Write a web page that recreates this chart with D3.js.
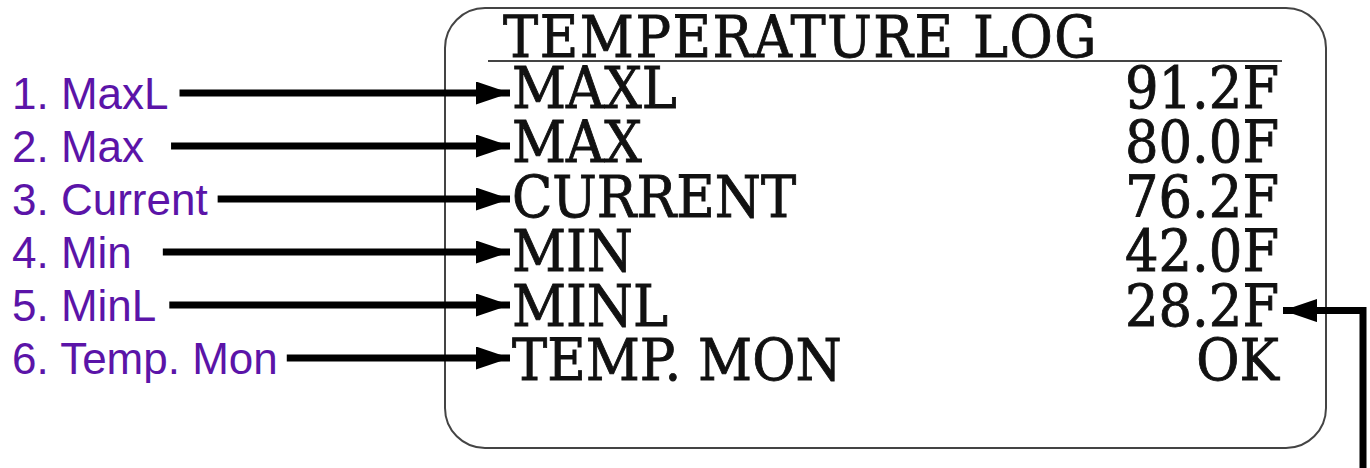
<!DOCTYPE html>
<html>
<head>
<meta charset="utf-8">
<script src="https://cdn.jsdelivr.net/npm/d3@7"></script>
<style>
	body { margin: 0; background: #ffffff; }
	.lcd { font-family: "DejaVu Serif", "Liberation Serif", serif; font-size: 58px; fill: #111111; stroke: #111111; stroke-width: 0.9px; }
	.title { letter-spacing: 1.7px; }
	.callout { font-family: "Liberation Sans", Arial, sans-serif; font-size: 44px; fill: #5b14a8; }
</style>
</head>
<body>
<script>
	//chart data
	var titleText = "TEMPERATURE LOG";
	var rowNames = ["MAXL", "MAX", "CURRENT", "MIN", "MINL", "TEMP. MON"];
	var rowValues = ["91.2F", "80.0F", "76.2F", "42.0F", "28.2F", "OK"];
	var calloutLabels = ["1. MaxL", "2. Max", "3. Current", "4. Min", "5. MinL", "6. Temp. Mon"];
	var pointedValue = "28.2F"; //value that gets the extra arrow from the right

	window.onload = function(){
		var w = 1370, h = 468;

		//gap between callout text and arrow tail, per row (layout only)
		var tailGap = [11, 27, 10, 31, 13, 9];
		var squeeze = 0.91; //horizontal squeeze of the lcd font

		var svg = d3.select("body")
			.append("svg")
			.attr("width", w)
			.attr("height", h)
			.attr("class", "container");

		var defs = svg.append("defs");
		defs.append("marker")
			.attr("id", "head")
			.attr("viewBox", "0 0 10 10")
			.attr("refX", 10)
			.attr("refY", 5)
			.attr("markerUnits", "userSpaceOnUse")
			.attr("markerWidth", 34)
			.attr("markerHeight", 23)
			.attr("orient", "auto")
			.attr("preserveAspectRatio", "none")
			.append("path")
			.attr("d", "M0,0L10,5L0,10Z")
			.style("fill", "#000");

		//display rows (baselines)
		var rowY = d3.scalePoint()
			.domain(rowNames)
			.range([108, 380]);

		//arrow rows
		var arrowY = d3.scalePoint()
			.domain(rowNames)
			.range([93, 358]);

		function place(x, y){
			return "translate(" + x + "," + y + ") scale(" + squeeze + ",1)";
		}

		//screen frame
		svg.append("rect")
			.attr("class", "frame")
			.attr("x", 445)
			.attr("y", 8)
			.attr("width", 881)
			.attr("height", 440)
			.attr("rx", 40)
			.attr("ry", 40)
			.style("fill", "#fff")
			.style("stroke", "#444")
			.style("stroke-width", 2);

		svg.append("text")
			.attr("class", "lcd title")
			.attr("transform", place(503, 57))
			.text(titleText);

		svg.append("line")
			.attr("class", "underline")
			.attr("x1", 488)
			.attr("x2", 1282)
			.attr("y1", 61)
			.attr("y2", 61)
			.style("stroke", "#444")
			.style("stroke-width", 2);

		svg.selectAll(".rowName")
			.data(rowNames)
			.enter()
			.append("text")
			.attr("class", "lcd rowName")
			.attr("transform", function(d){ return place(512, rowY(d)); })
			.text(function(d){ return d; });

		svg.selectAll(".rowValue")
			.data(rowValues)
			.enter()
			.append("text")
			.attr("class", "lcd rowValue")
			.attr("text-anchor", "end")
			.attr("transform", function(d, i){ return place(1279, rowY(rowNames[i])); })
			.text(function(d){ return d; });

		//purple callouts on the left
		var callouts = svg.selectAll(".callout")
			.data(calloutLabels)
			.enter()
			.append("text")
			.attr("class", "callout")
			.attr("x", 12)
			.attr("y", function(d, i){ return arrowY(rowNames[i]) + 16; })
			.text(function(d){ return d; });

		svg.selectAll(".arrow")
			.data(calloutLabels)
			.enter()
			.append("line")
			.attr("class", "arrow")
			.attr("x1", function(d, i){
				return 12 + callouts.nodes()[i].getComputedTextLength() + tailGap[i];
			})
			.attr("x2", 510)
			.attr("y1", function(d, i){ return arrowY(rowNames[i]); })
			.attr("y2", function(d, i){ return arrowY(rowNames[i]); })
			.style("stroke", "#000")
			.style("stroke-width", 7)
			.attr("marker-end", "url(#head)");

		//elbow arrow pointing at the low value
		var idx = rowValues.indexOf(pointedValue);
		var py = rowY(rowNames[idx]) - 15;
		svg.append("path")
			.attr("class", "elbow")
			.attr("d", "M1363," + h + "L1363," + py + "L1283," + py)
			.style("fill", "none")
			.style("stroke", "#000")
			.style("stroke-width", 7)
			.attr("marker-end", "url(#head)");
	};
</script>
</body>
</html>
